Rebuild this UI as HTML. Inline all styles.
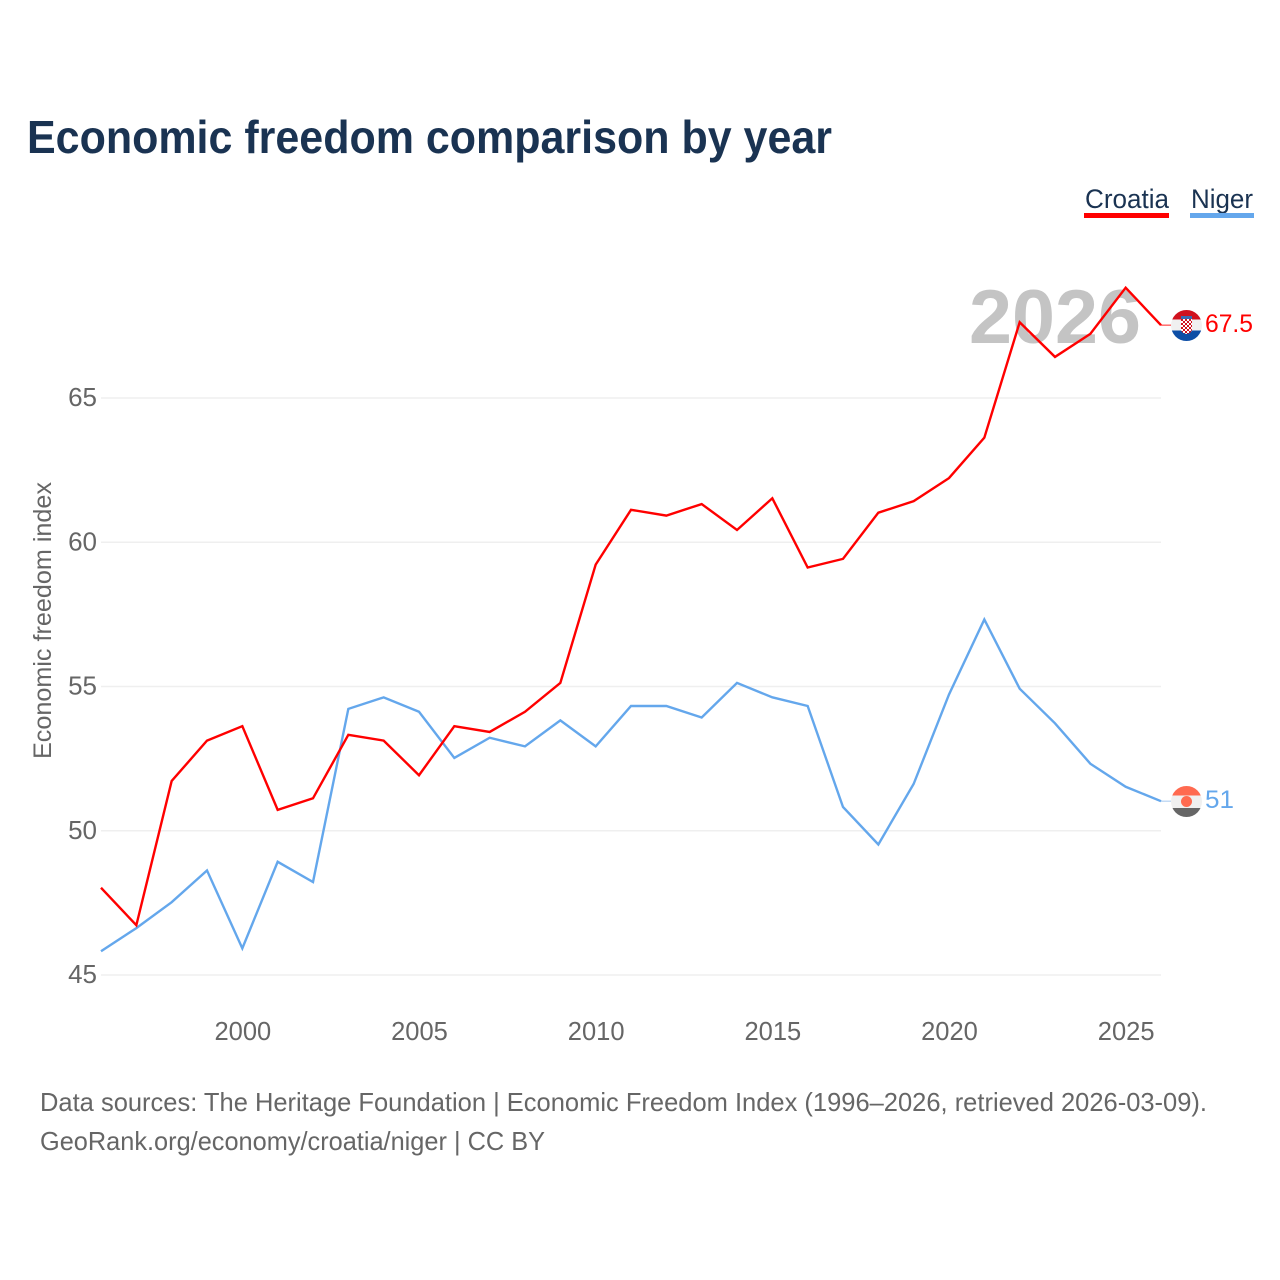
<!DOCTYPE html>
<html lang="en">
<head>
<meta charset="utf-8">
<title>Economic freedom comparison by year</title>
<style>
html,body{margin:0;padding:0;background:#fff}
svg{display:block}
text{font-family:"Liberation Sans",sans-serif}
</style>
</head>
<body>
<svg id="chart" xmlns="http://www.w3.org/2000/svg" width="1280" height="1280" viewBox="0 0 1280 1280">
  <rect width="1280" height="1280" fill="#fff"/>
  <text x="27" y="153" font-size="46" font-weight="700" fill="#1a3352" textLength="805" lengthAdjust="spacingAndGlyphs">Economic freedom comparison by year</text>

  <g>
    <g>
      <text x="1085" y="208" font-size="27" fill="#1a3352" textLength="84" lengthAdjust="spacingAndGlyphs">Croatia</text>
      <rect x="1084" y="213" width="85" height="5" fill="#ff0000"/>
    </g>
    <g>
      <text x="1191" y="208" font-size="27" fill="#1a3352" textLength="62" lengthAdjust="spacingAndGlyphs">Niger</text>
      <rect x="1190" y="213" width="64" height="5" fill="#64a7ec"/>
    </g>
  </g>

  <text transform="translate(51,759) rotate(-90)" x="0" y="0" font-size="25" fill="#666" textLength="277" lengthAdjust="spacingAndGlyphs">Economic freedom index</text>

  <g id="grid"></g>
  <g id="yticks"></g>
  <g id="xticks"></g>

  <text x="969" y="343" font-size="76" font-weight="700" fill="#c4c4c4" textLength="172" lengthAdjust="spacingAndGlyphs">2026</text>

  <g id="series"></g>

  <defs>
    <clipPath id="clip-croatia"><circle cx="1186.5" cy="325.5" r="15.5"/></clipPath>
    <clipPath id="clip-niger"><circle cx="1186.5" cy="801.5" r="15.5"/></clipPath>
    <pattern id="checker" x="1181" y="319" width="4" height="4" patternUnits="userSpaceOnUse">
      <rect width="4" height="4" fill="#fff"/>
      <rect width="2" height="2" fill="#d0121f"/>
      <rect x="2" y="2" width="2" height="2" fill="#d0121f"/>
    </pattern>
  </defs>
  <g clip-path="url(#clip-croatia)">
    <rect x="1171" y="310" width="31" height="9.5" fill="#d0121f"/>
    <rect x="1171" y="319.5" width="31" height="11" fill="#f0f0f0"/>
    <rect x="1171" y="330.5" width="31" height="11" fill="#0d4ea6"/>
    <path d="M1181 319h11v10q0 4 -5.500 5q-5.500 -1 -5.500 -5z" fill="url(#checker)"/>
    <rect x="1181" y="316" width="11" height="3" fill="#3a6ab0"/>
  </g>
  <g clip-path="url(#clip-niger)">
    <rect x="1171" y="786" width="31" height="9.5" fill="#ff6a50"/>
    <rect x="1171" y="795.5" width="31" height="12.5" fill="#f0f0f0"/>
    <rect x="1171" y="808" width="31" height="10" fill="#666"/>
    <circle cx="1186.5" cy="801.5" r="5.5" fill="#ff6a50"/>
  </g>

  <text id="croatia-end" x="1205" y="332" font-size="25" fill="#ff0000" textLength="48" lengthAdjust="spacingAndGlyphs"></text>
  <text id="niger-end" x="1205" y="808" font-size="25" fill="#64a7ec" textLength="29" lengthAdjust="spacingAndGlyphs"></text>

  <text x="40" y="1111" font-size="26" fill="#666" textLength="1167" lengthAdjust="spacingAndGlyphs">Data sources: The Heritage Foundation | Economic Freedom Index (1996–2026, retrieved 2026-03-09).</text>
  <text x="40" y="1150" font-size="26" fill="#666" textLength="505" lengthAdjust="spacingAndGlyphs">GeoRank.org/economy/croatia/niger | CC BY</text>
</svg>
<script>
const years = [1996,1997,1998,1999,2000,2001,2002,2003,2004,2005,2006,2007,2008,2009,2010,2011,2012,2013,2014,2015,2016,2017,2018,2019,2020,2021,2022,2023,2024,2025,2026];
const croatiaValues = [48.0,46.7,51.7,53.1,53.6,50.7,51.1,53.3,53.1,51.9,53.6,53.4,54.1,55.1,59.2,61.1,60.9,61.3,60.4,61.5,59.1,59.4,61.0,61.4,62.2,63.6,67.6,66.4,67.2,68.8,67.5];
const nigerValues = [45.8,46.6,47.5,48.6,45.9,48.9,48.2,54.2,54.6,54.1,52.5,53.2,52.9,53.8,52.9,54.3,54.3,53.9,55.1,54.6,54.3,50.8,49.5,51.6,54.7,57.3,54.9,53.7,52.3,51.5,51.0];
const yTickValues = [45,50,55,60,65];
const xTickValues = [2000,2005,2010,2015,2020,2025];

const SVG_NS = 'http://www.w3.org/2000/svg';
const xScale = function (year) { return 101 + (year - 1996) * (1060 / 30); };
const yScale = function (value) { return 975 - (value - 45) * (577 / 20); };
const LINE_OFFSET = -0.7;

const grid = document.getElementById('grid');
const yticks = document.getElementById('yticks');
const xticks = document.getElementById('xticks');
const series = document.getElementById('series');

yTickValues.forEach(function (v) {
  const line = document.createElementNS(SVG_NS, 'line');
  
  
  line.setAttribute('x1', xScale(1996));
  line.setAttribute('x2', xScale(2026));
  line.setAttribute('y1', yScale(v));
  line.setAttribute('y2', yScale(v));
  line.setAttribute('stroke', '#efefef');
  line.setAttribute('stroke-width', '1.6');
  grid.appendChild(line);

  const label = document.createElementNS(SVG_NS, 'text');
  
  
  label.setAttribute('x', 97);
  label.setAttribute('y', yScale(v) + 8);
  label.setAttribute('text-anchor', 'end');
  label.setAttribute('font-size', '26');
  label.setAttribute('fill', '#666');
  label.textContent = v;
  yticks.appendChild(label);
});

xTickValues.forEach(function (y) {
  const label = document.createElementNS(SVG_NS, 'text');
  
  
  label.setAttribute('x', xScale(y) + 0.5);
  label.setAttribute('y', 1040);
  label.setAttribute('text-anchor', 'middle');
  label.setAttribute('font-size', '25.5');
  label.setAttribute('fill', '#666');
  label.textContent = y;
  xticks.appendChild(label);
});

function drawSeries(values, color, name, connectorColor) {
  const last = values[values.length - 1];
  const connector = document.createElementNS(SVG_NS, 'line');
  
  
  connector.setAttribute('x1', xScale(2026));
  connector.setAttribute('x2', 1171);
  connector.setAttribute('y1', yScale(last) + LINE_OFFSET);
  connector.setAttribute('y2', yScale(last) + LINE_OFFSET);
  connector.setAttribute('stroke', connectorColor);
  connector.setAttribute('stroke-width', '1.3');
  series.appendChild(connector);

  const d = values.map(function (v, i) {
    return (i ? 'L' : 'M') + xScale(years[i]).toFixed(2) + ' ' + (yScale(v) + LINE_OFFSET).toFixed(2);
  }).join(' ');
  const path = document.createElementNS(SVG_NS, 'path');
  
  
  path.setAttribute('d', d);
  path.setAttribute('fill', 'none');
  path.setAttribute('stroke', color);
  path.setAttribute('stroke-width', '2.4');
  path.setAttribute('stroke-linejoin', 'miter');
  series.appendChild(path);
}

drawSeries(nigerValues, '#64a7ec', 'niger', '#b9d5f3');
drawSeries(croatiaValues, '#ff0000', 'croatia', '#ff5555');

document.getElementById('croatia-end').textContent = croatiaValues[croatiaValues.length - 1];
document.getElementById('niger-end').textContent = nigerValues[nigerValues.length - 1];
</script>
</body>
</html>
